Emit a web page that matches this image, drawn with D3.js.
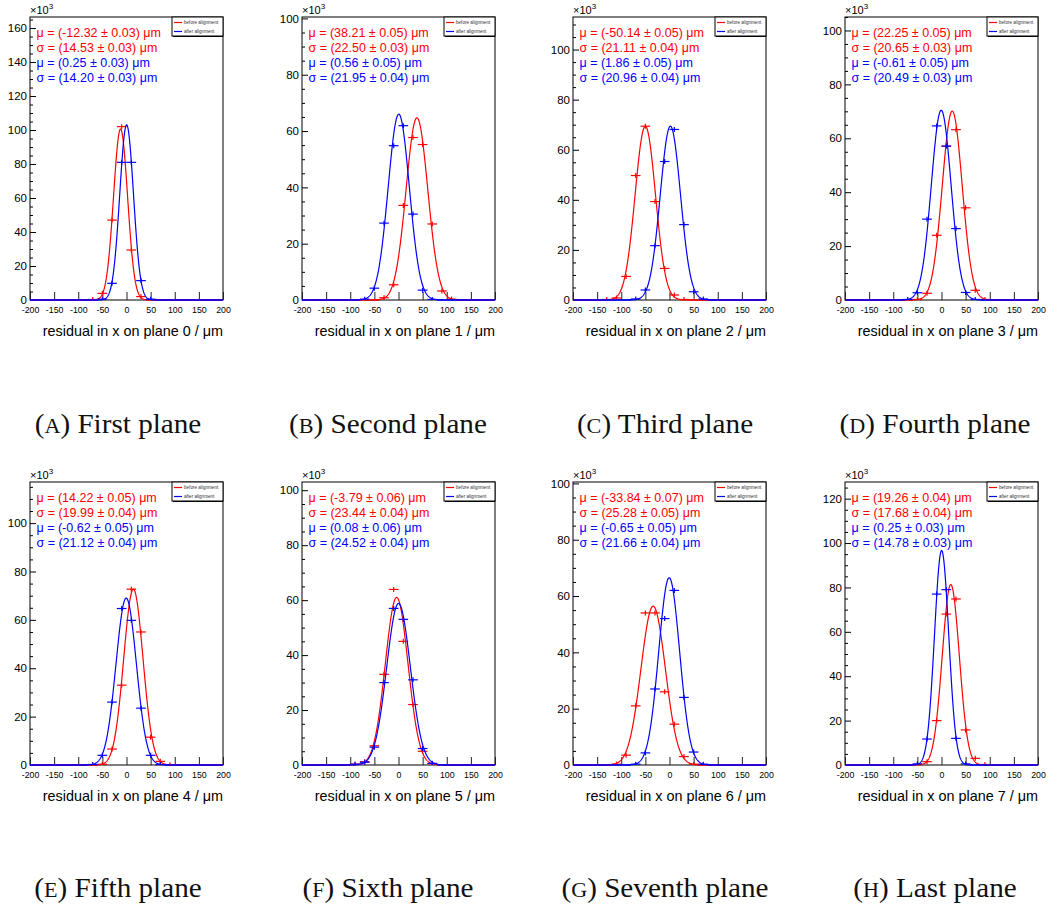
<!DOCTYPE html>
<html>
<head>
<meta charset="utf-8">
<script src="https://cdn.jsdelivr.net/npm/d3@7"></script>
<style>
  body { margin: 0; background: #fff; }
  svg { display: block; }
  text { font-family: "Liberation Sans", Arial, Helvetica, sans-serif; }
</style>
</head>
<body>
<svg id="fig" width="1053" height="906"></svg>
<script>
// ---- data -------------------------------------------------------------
// centres of the 20 µm wide residual bins
const binCenters = [-190, -170, -150, -130, -110, -90, -70, -50, -30, -10,
                    10, 30, 50, 70, 90, 110, 130, 150, 170, 190];
const binWidth = 20;
const xTicks = [-200, -150, -100, -50, 0, 50, 100, 150, 200];

const planeIds = [0, 1, 2, 3, 4, 5, 6, 7];
const subLetters = ["A", "B", "C", "D", "E", "F", "G", "H"];
const subTitles = ["First plane", "Second plane", "Third plane", "Fourth plane",
                   "Fifth plane", "Sixth plane", "Seventh plane", "Last plane"];

// upper edge of the y range of every plane, in units of 10^3 entries
const yMax = [166.5, 100.5, 113, 105, 117, 103, 100.5, 127.5];

// Gaussian fit results before alignment
const muBefore       = [-12.32, 38.21, -50.14, 22.25, 14.22, -3.79, -33.84, 19.26];
const muBeforeErr    = [0.03, 0.05, 0.05, 0.05, 0.05, 0.06, 0.07, 0.04];
const sigmaBefore    = [14.53, 22.50, 21.11, 20.65, 19.99, 23.44, 25.28, 17.68];
const sigmaBeforeErr = [0.03, 0.03, 0.04, 0.03, 0.04, 0.04, 0.05, 0.04];
const ampBefore      = [100.6, 64.7, 69.4, 70.1, 72.7, 61.0, 56.4, 81.3];

// Gaussian fit results after alignment
const muAfter        = [0.25, 0.56, 1.86, -0.61, -0.62, 0.08, -0.65, 0.25];
const muAfterErr     = [0.03, 0.05, 0.05, 0.05, 0.05, 0.06, 0.05, 0.03];
const sigmaAfter     = [14.20, 21.95, 20.96, 20.49, 21.12, 24.52, 21.66, 14.78];
const sigmaAfterErr  = [0.03, 0.04, 0.04, 0.03, 0.04, 0.04, 0.04, 0.03];
const ampAfter       = [103.0, 66.0, 69.4, 70.4, 69.0, 58.8, 66.5, 96.6];

// histogram contents per bin (x10^3 entries), before alignment
const countsBefore = [
  [0, 0, 0, 0, 0, 0, 0.3, 3.9, 47, 102, 29.4, 2, 0.1, 0, 0, 0, 0, 0, 0, 0],
  [0, 0, 0, 0, 0, 0, 0, 0, 0.8, 5.4, 33.6, 57.7, 55.2, 27, 3.2, 0.3, 0, 0, 0, 0],
  [0, 0, 0, 0.2, 0.8, 9.4, 49.7, 69.4, 39.3, 12.6, 2, 0.2, 0, 0, 0, 0, 0, 0, 0, 0],
  [0, 0, 0, 0, 0, 0, 0, 0.2, 2.5, 24, 57.1, 63.2, 34.2, 3.6, 0.2, 0, 0, 0, 0, 0],
  [0, 0, 0, 0, 0, 0, 0, 0.3, 6.6, 33, 72.7, 55, 11.5, 1.5, 0.1, 0, 0, 0, 0, 0],
  [0, 0, 0, 0, 0, 0.3, 1.2, 7, 33, 63.9, 45, 22, 5, 0.5, 0, 0, 0, 0, 0, 0],
  [0, 0, 0, 0, 0.3, 3.5, 21, 54, 54, 26, 14.5, 3, 0.3, 0, 0, 0, 0, 0, 0, 0],
  [0, 0, 0, 0, 0, 0, 0, 0.2, 1.5, 20, 68, 74.8, 15.8, 3, 0.2, 0, 0, 0, 0, 0]
];

// histogram contents per bin (x10^3 entries), after alignment
const countsAfter = [
  [0, 0, 0, 0, 0, 0, 0, 0.5, 9.8, 81, 81, 11.4, 0.5, 0, 0, 0, 0, 0, 0, 0],
  [0, 0, 0, 0, 0, 0, 0.3, 4.2, 27.3, 54.8, 61.9, 30.5, 3.5, 0.2, 0, 0, 0, 0, 0, 0],
  [0, 0, 0, 0, 0, 0, 0.4, 4, 21.7, 55.3, 68.1, 30.1, 3.3, 0.4, 0, 0, 0, 0, 0, 0],
  [0, 0, 0, 0, 0, 0, 0.2, 2.7, 30, 64.6, 57.1, 26.5, 2.8, 0.2, 0, 0, 0, 0, 0, 0],
  [0, 0, 0, 0, 0, 0, 0.2, 4, 26, 64.7, 59.8, 23.5, 4, 0.2, 0, 0, 0, 0, 0, 0],
  [0, 0, 0, 0, 0, 0.3, 1, 6.5, 30, 57, 53, 31, 6, 0.6, 0, 0, 0, 0, 0, 0],
  [0, 0, 0, 0, 0, 0, 0.3, 4.3, 27, 52, 62, 24, 4.6, 0.3, 0, 0, 0, 0, 0, 0],
  [0, 0, 0, 0, 0, 0, 0, 0.5, 11.7, 77, 79, 12, 0.5, 0, 0, 0, 0, 0, 0, 0]
];

const seriesNames = ["before alignment", "after alignment"];
const seriesColors = ["#ff0000", "#0000ff"];

// ---- layout -----------------------------------------------------------
const colLeft = [30, 302, 573, 845];
const rowTop = [17, 482];
const frameW = 193, frameH = 283;
const captionX = [118, 388, 665, 935];
const captionBaseline = [433, 897];

const svg = d3.select("#fig");

const fmt = v => v.toFixed(2);

planeIds.forEach((plane, i) => {
  const L = colLeft[i % 4];
  const T = rowTop[Math.floor(i / 4)];
  const g = svg.append("g");

  const x = d3.scaleLinear().domain([-200, 200]).range([L, L + frameW]);
  const y = d3.scaleLinear().domain([0, yMax[i]]).range([T + frameH, T]);

  // frame
  g.append("rect")
    .attr("x", L).attr("y", T).attr("width", frameW).attr("height", frameH)
    .attr("fill", "none").attr("stroke", "#000").attr("stroke-width", 1);

  // x axis, ticks pointing into the frame
  const xAxis = d3.axisBottom(x).tickValues(xTicks)
    .tickSizeInner(-8).tickSizeOuter(0).tickPadding(7)
    .tickFormat(d => String(d));
  const gx = g.append("g").attr("transform", `translate(0,${T + frameH})`).call(xAxis);
  gx.select(".domain").remove();
  gx.selectAll("line").attr("stroke", "#222").attr("stroke-width", 1);
  gx.selectAll("text").attr("font-size", 8.8).attr("fill", "#000")
    .attr("font-family", "'Liberation Sans', Arial, sans-serif");

  // y axis: major every 20, minor every 5
  const major = d3.range(0, yMax[i] + 0.001, 20);
  const minor = d3.range(0, yMax[i] + 0.001, 5).filter(v => v % 20 !== 0);
  const yAxis = d3.axisLeft(y).tickValues(major)
    .tickSizeInner(-6).tickSizeOuter(0).tickPadding(3)
    .tickFormat(d => String(d));
  const gy = g.append("g").attr("transform", `translate(${L},0)`).call(yAxis);
  gy.select(".domain").remove();
  gy.selectAll("line").attr("stroke", "#000");
  gy.selectAll("text").attr("font-size", 11.5).attr("fill", "#000")
    .attr("font-family", "'Liberation Sans', Arial, sans-serif");
  const yMinor = d3.axisLeft(y).tickValues(minor)
    .tickSizeInner(-3).tickSizeOuter(0).tickFormat("");
  const gym = g.append("g").attr("transform", `translate(${L},0)`).call(yMinor);
  gym.select(".domain").remove();
  gym.selectAll("line").attr("stroke", "#000");

  // exponent label of the y axis
  const ex = g.append("text").attr("x", L).attr("y", T - 3)
    .attr("font-size", 11).attr("fill", "#000");
  ex.append("tspan").text("\u00d710");
  ex.append("tspan").attr("font-size", 8).attr("dy", -5).text("3");

  // x axis title
  g.append("text").attr("x", L + frameW).attr("y", T + frameH + 36)
    .attr("text-anchor", "end").attr("font-size", 14.4).attr("fill", "#000")
    .text(`residual in x on plane ${plane} / \u03bcm`);

  // histograms and Gaussian fits
  const fits = [
    { counts: countsBefore[i], mu: muBefore[i], sigma: sigmaBefore[i], amp: ampBefore[i] },
    { counts: countsAfter[i], mu: muAfter[i], sigma: sigmaAfter[i], amp: ampAfter[i] }
  ];
  const xs = d3.range(-200, 200.001, 0.5);
  fits.forEach((s, k) => {
    const col = seriesColors[k];
    const gaus = v => s.amp * Math.exp(-0.5 * Math.pow((v - s.mu) / s.sigma, 2));
    g.append("path")
      .datum(xs)
      .attr("d", d3.line().x(v => x(v)).y(v => y(gaus(v))))
      .attr("fill", "none").attr("stroke", col).attr("stroke-width", 1.2);

    const bins = binCenters.map((c, j) => ({ c, n: s.counts[j] }));
    const hg = g.append("g").attr("stroke", col).attr("stroke-width", 1.2);
    hg.selectAll("line.h").data(bins).join("line").attr("class", "h")
      .attr("x1", d => x(d.c - binWidth / 2)).attr("x2", d => x(d.c + binWidth / 2))
      .attr("y1", d => y(d.n)).attr("y2", d => y(d.n));
    hg.selectAll("line.v").data(bins.filter(d => d.n > 0.05)).join("line").attr("class", "v")
      .attr("x1", d => x(d.c)).attr("x2", d => x(d.c))
      .attr("y1", d => y(d.n) - 2.5).attr("y2", d => Math.min(y(d.n) + 2.5, T + frameH));
  });

  // fit parameters
  const stats = [
    { t: `\u03bc = (${fmt(muBefore[i])} \u00b1 ${fmt(muBeforeErr[i])}) \u03bcm`, c: seriesColors[0] },
    { t: `\u03c3 = (${fmt(sigmaBefore[i])} \u00b1 ${fmt(sigmaBeforeErr[i])}) \u03bcm`, c: seriesColors[0] },
    { t: `\u03bc = (${fmt(muAfter[i])} \u00b1 ${fmt(muAfterErr[i])}) \u03bcm`, c: seriesColors[1] },
    { t: `\u03c3 = (${fmt(sigmaAfter[i])} \u00b1 ${fmt(sigmaAfterErr[i])}) \u03bcm`, c: seriesColors[1] }
  ];
  g.selectAll("text.stat").data(stats).join("text").attr("class", "stat")
    .attr("x", L + 6.5).attr("y", (d, j) => T + 19.8 + j * 15)
    .attr("font-size", 12.5).attr("fill", d => d.c).text(d => d.t);

  // legend
  const lw = 51, lh = 19, lx = L + frameW - lw, ly = T;
  const lg = g.append("g");
  lg.append("rect").attr("x", lx).attr("y", ly).attr("width", lw).attr("height", lh)
    .attr("fill", "#fff").attr("stroke", "#000").attr("stroke-width", 1);
  lg.append("line").attr("x1", lx + 1).attr("x2", lx + lw).attr("y1", ly + lh + 0.5).attr("y2", ly + lh + 0.5)
    .attr("stroke", "#000").attr("stroke-width", 1.2);
  seriesNames.forEach((nm, k) => {
    const yy = ly + 5.5 + k * 9;
    lg.append("line").attr("x1", lx + 2).attr("x2", lx + 10).attr("y1", yy).attr("y2", yy)
      .attr("stroke", seriesColors[k]).attr("stroke-width", 1.2);
    lg.append("text").attr("x", lx + 12).attr("y", yy + 1.6)
      .attr("font-size", 4.6).attr("fill", "#333").text(nm);
  });

  // sub-figure caption, set a little wide like a book face
  const cap = svg.append("text")
    .attr("x", captionX[i % 4]).attr("y", captionBaseline[Math.floor(i / 4)])
    .attr("text-anchor", "middle").attr("font-size", 27).attr("fill", "#111")
    .style("font-family", "'Liberation Serif', 'DejaVu Serif', serif");
  cap.append("tspan").text("(");
  cap.append("tspan").attr("font-size", 20.5).text(subLetters[i]);
  cap.append("tspan").text(") " + subTitles[i]);
  const natural = cap.node().getComputedTextLength();
  cap.attr("textLength", natural * 1.08).attr("lengthAdjust", "spacingAndGlyphs");
});
</script>
</body>
</html>
